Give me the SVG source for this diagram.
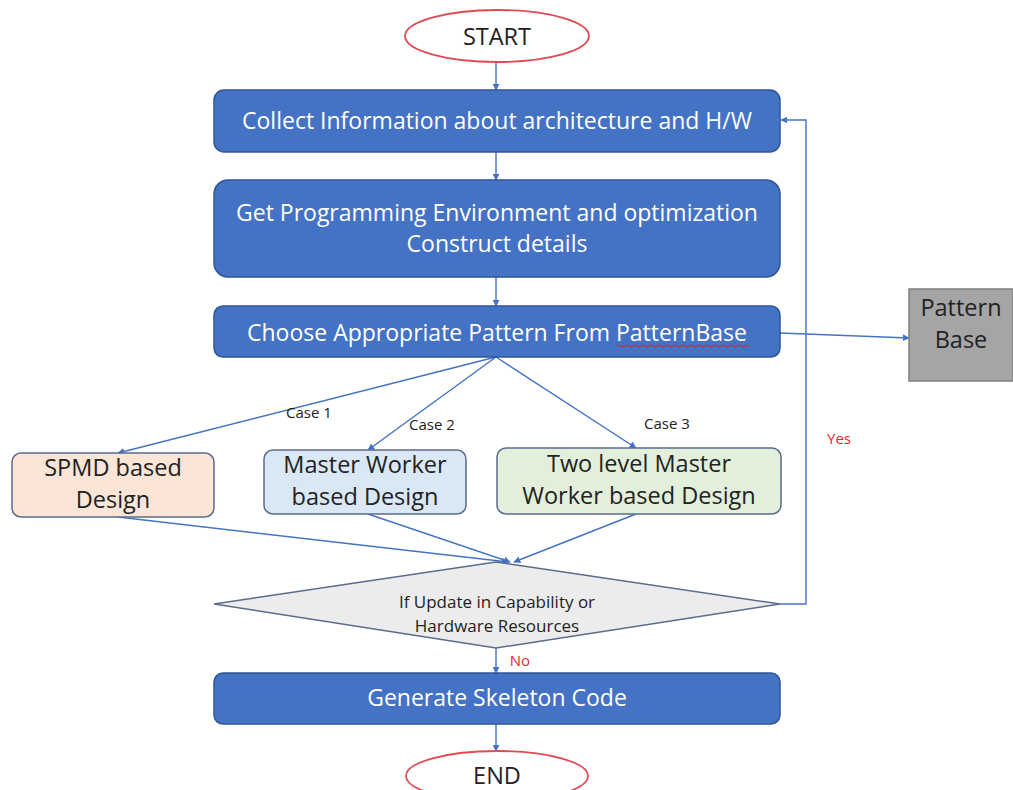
<svg xmlns="http://www.w3.org/2000/svg" width="1013" height="790" viewBox="0 0 1013 790">
<defs>
<marker id="ah" viewBox="0 0 10 10" refX="9" refY="5" markerWidth="7" markerHeight="7" orient="auto" markerUnits="userSpaceOnUse">
<path d="M0,0 L10,5 L0,10 z" fill="#4472c4"/>
</marker>
<style>
.blue{fill:#4472c4;stroke:#2f5597;stroke-width:1.5}
.wt{fill:#ffffff;font-family:"Open Sans","Liberation Sans",sans-serif;font-size:23px;text-anchor:middle}
.dk{fill:#222222;font-family:"Open Sans","Liberation Sans",sans-serif;font-size:23.5px;text-anchor:middle}
.sm{fill:#222222;font-family:"Open Sans","Liberation Sans",sans-serif;font-size:15px;text-anchor:middle}
.dt{fill:#222222;font-family:"Open Sans","Liberation Sans",sans-serif;font-size:17px;text-anchor:middle}
.red{fill:#e8262c;font-family:"Open Sans","Liberation Sans",sans-serif;font-size:15px;text-anchor:middle}
.oval{fill:#ffffff;stroke:#e04a52;stroke-width:1.8}
.sub{stroke:#5b6b8c;stroke-width:1.5}
.con{fill:none;stroke:#4472c4;stroke-width:1.4}
</style>
</defs>
<rect width="1013" height="790" fill="#ffffff"/>

<g id="connectors">
<line class="con" x1="496" y1="63" x2="496" y2="90" marker-end="url(#ah)"/>
<line class="con" x1="496" y1="152" x2="496" y2="180" marker-end="url(#ah)"/>
<line class="con" x1="496" y1="277" x2="496" y2="306" marker-end="url(#ah)"/>
<line class="con" x1="780" y1="333" x2="909" y2="338" marker-end="url(#ah)"/>
<line class="con" x1="496" y1="357" x2="118" y2="453" marker-end="url(#ah)"/>
<line class="con" x1="496" y1="357" x2="368" y2="450" marker-end="url(#ah)"/>
<line class="con" x1="496" y1="357" x2="636" y2="448" marker-end="url(#ah)"/>
<line class="con" x1="118" y1="517" x2="508" y2="562" marker-end="url(#ah)"/>
<line class="con" x1="368" y1="514" x2="510" y2="562" marker-end="url(#ah)"/>
<line class="con" x1="636" y1="514" x2="514" y2="562" marker-end="url(#ah)"/>
<polyline class="con" points="780,604 806,604 806,120 781,120" marker-end="url(#ah)"/>
<line class="con" x1="496" y1="648" x2="496" y2="673" marker-end="url(#ah)"/>
<line class="con" x1="496" y1="724" x2="496" y2="751" marker-end="url(#ah)"/>
<text class="sm" x="309" y="418">Case 1</text>
<text class="sm" x="432" y="430">Case 2</text>
<text class="sm" x="667" y="429">Case 3</text>
<text class="red" x="839" y="444">Yes</text>
<text class="red" x="520" y="666">No</text>
</g>

<g id="start">
<ellipse class="oval" cx="497" cy="36" rx="92" ry="26"/>
<text class="dk" x="497" y="45">START</text>
</g>

<g id="collect">
<rect class="blue" x="214" y="90" width="566" height="62" rx="10"/>
<text class="wt" x="497" y="129">Collect Information about architecture and H/W</text>
</g>

<g id="getenv">
<rect class="blue" x="214" y="180" width="566" height="97" rx="14"/>
<text class="wt" x="497" y="221">Get Programming Environment and optimization</text>
<text class="wt" x="497" y="252">Construct details</text>
</g>

<g id="choose">
<rect class="blue" x="214" y="306" width="566" height="51" rx="9"/>
<text class="wt" x="497" y="341">Choose Appropriate Pattern From PatternBase</text>
<path d="M617,346 q2,-2 4,0 t4,0 t4,0 t4,0 t4,0 t4,0 t4,0 t4,0 t4,0 t4,0 t4,0 t4,0 t4,0 t4,0 t4,0 t4,0 t4,0 t4,0 t4,0 t4,0 t4,0 t4,0 t4,0 t4,0 t4,0 t4,0 t4,0 t4,0 t4,0 t4,0 t4,0 t4,0 t4,0" fill="none" stroke="#e02020" stroke-width="1"/>
</g>

<g id="patternbase">
<rect x="909" y="289" width="104" height="92" fill="#a5a5a5" stroke="#7f7f7f" stroke-width="1.5"/>
<text class="dk" x="961" y="316">Pattern</text>
<text class="dk" x="961" y="348">Base</text>
</g>

<g id="spmd">
<rect class="sub" x="12" y="453" width="202" height="64" rx="9" fill="#fbe5d6"/>
<text class="dk" x="113" y="476">SPMD based</text>
<text class="dk" x="113" y="508">Design</text>
</g>

<g id="master">
<rect class="sub" x="264" y="450" width="202" height="64" rx="9" fill="#dae8f5"/>
<text class="dk" x="365" y="473">Master Worker</text>
<text class="dk" x="365" y="505">based Design</text>
</g>

<g id="twolevel">
<rect class="sub" x="497" y="448" width="284" height="66" rx="9" fill="#e2efda"/>
<text class="dk" x="639" y="472">Two level Master</text>
<text class="dk" x="639" y="504">Worker based Design</text>
</g>

<g id="decision">
<polygon points="496,562 780,604 496,648 214,604" fill="#ececec" stroke="#5b6b8c" stroke-width="1.5"/>
<text class="dt" x="497" y="608">If Update in Capability or</text>
<text class="dt" x="497" y="632">Hardware Resources</text>
</g>

<g id="generate">
<rect class="blue" x="214" y="673" width="566" height="51" rx="9"/>
<text class="wt" x="497" y="706">Generate Skeleton Code</text>
</g>

<g id="end">
<ellipse class="oval" cx="497" cy="776" rx="91" ry="25"/>
<text class="dk" x="497" y="784">END</text>
</g>
</svg>
